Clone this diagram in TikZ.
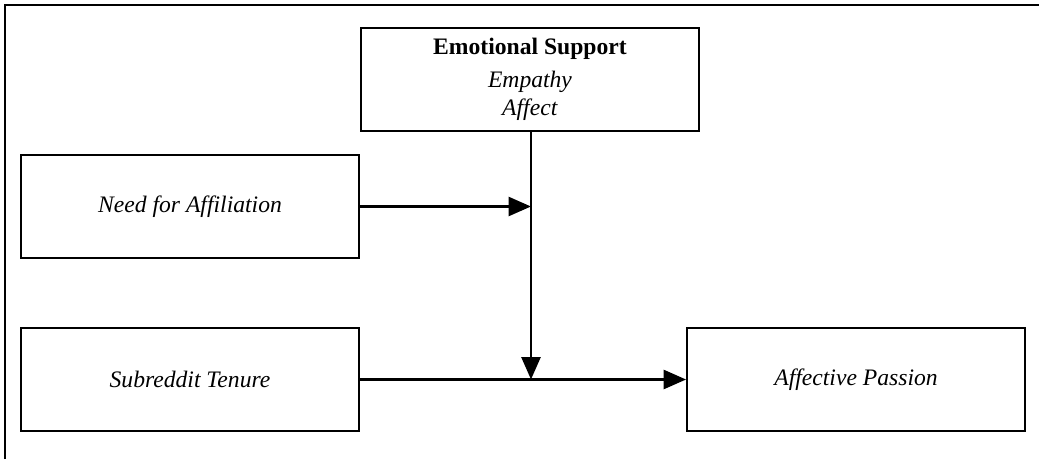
\documentclass[tikz,border=0pt]{standalone}
\usepackage{fontspec}
\setmainfont{Liberation Serif}
\usetikzlibrary{arrows.meta}

\begin{document}
\begin{tikzpicture}[scale=1,
  box/.style={draw, line width=1.3pt, minimum width=8.45cm, minimum height=2.575cm, align=center, inner sep=0pt, font=\fontsize{16.8}{20}\selectfont},
  arr/.style={line width=2pt, -{Triangle[length=16pt,width=13.5pt]}}]

\useasboundingbox (0,0) rectangle (25.975,11.475);

% frame
\draw[line width=1.6pt] (0.125,0) -- (0.125,11.35) -- (25.975,11.35);

\node[box] (es) at (13.25,9.4875) {\raisebox{-3pt}{\textbf{Emotional Support}}\\[6pt] \textit{Empathy}\\ \textit{Affect}};
\node[box] (nfa) at (4.75,6.3125) {\textit{Need for Affiliation}};
\node[box] (st) at (4.75,1.9875) {\textit{Subreddit Tenure}};
\node[box] (ap) at (21.4,1.9875) {\textit{Affective Passion}};

\coordinate (j1) at (13.275,0 |- nfa.east);
\coordinate (j2) at (13.275,0 |- st.east);
\coordinate (top) at (13.275,0 |- es.south);

\draw[arr] (nfa.east) -- (j1);
\draw[arr] (top) -- (j2);
\draw[arr] (st.east) -- (ap.west);
\end{tikzpicture}
\end{document}
